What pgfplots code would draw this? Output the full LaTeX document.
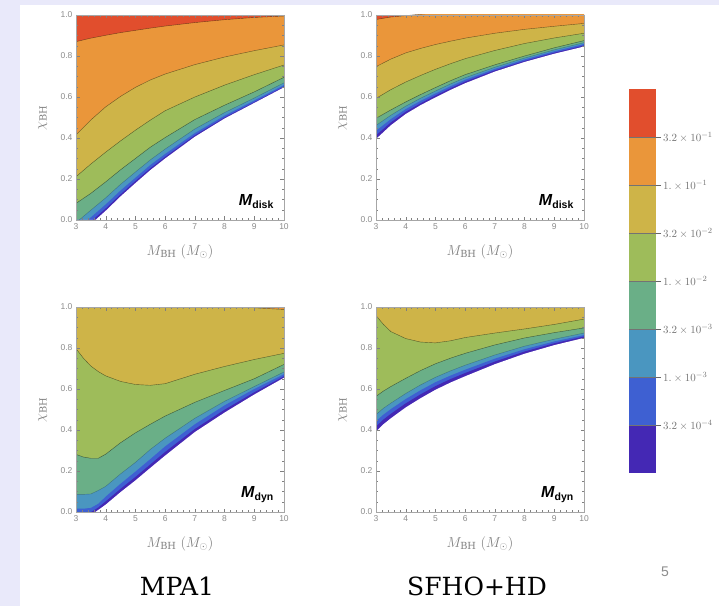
\documentclass[border=0pt]{standalone}
\usepackage{fontspec}
\setmainfont{DejaVu Serif}
\setsansfont{Liberation Sans}
\usepackage{pgfplots}
\usepackage{pgfplotstable}
\pgfplotsset{compat=1.18}

\definecolor{cRed}{RGB}{225,78,45}
\definecolor{cOrange}{RGB}{234,150,58}
\definecolor{cYellow}{RGB}{206,180,72}
\definecolor{cLGreen}{RGB}{158,188,90}
\definecolor{cTeal}{RGB}{106,175,135}
\definecolor{cSteel}{RGB}{74,150,192}
\definecolor{cBlue}{RGB}{62,96,210}
\definecolor{cIndigo}{RGB}{68,40,180}
\definecolor{lav}{RGB}{233,233,250}

% MPA1, M_disk
\pgfplotstableread{
x    W      B      S      T      G      Y      O      R
3   -0.090 -0.076 -0.052 -0.013  0.081  0.211  0.415  0.870
3.5 -0.020 -0.008  0.013  0.048  0.130  0.273  0.488  0.887
4    0.045  0.056  0.076  0.108  0.186  0.331  0.552  0.901
4.5  0.115  0.125  0.144  0.174  0.245  0.386  0.603  0.914
5    0.180  0.190  0.206  0.234  0.300  0.438  0.647  0.925
5.5  0.243  0.252  0.268  0.293  0.355  0.487  0.683  0.936
6    0.300  0.308  0.322  0.346  0.402  0.533  0.712  0.946
7    0.406  0.413  0.424  0.444  0.490  0.600  0.758  0.963
8    0.495  0.500  0.509  0.524  0.560  0.658  0.795  0.977
9    0.571  0.575  0.583  0.595  0.625  0.709  0.826  0.988
10   0.647  0.651  0.658  0.669  0.696  0.756  0.854  0.995
}\pA
% SFHO+HD, M_disk
\pgfplotstableread{
x    W      B      S      T      G      Y      O      R
3    0.395  0.413  0.435  0.461  0.496  0.593  0.748  0.978
3.5  0.462  0.476  0.492  0.511  0.537  0.636  0.785  0.990
4    0.517  0.528  0.541  0.555  0.576  0.673  0.815  0.997
4.5  0.560  0.569  0.581  0.594  0.612  0.705  0.837  1.004
5    0.598  0.607  0.617  0.629  0.646  0.735  0.856  1.010
5.5  0.634  0.642  0.652  0.663  0.679  0.762  0.872  1.015
6    0.667  0.675  0.684  0.694  0.709  0.787  0.887  1.020
7    0.724  0.730  0.737  0.745  0.757  0.827  0.911  1.030
8    0.771  0.776  0.783  0.790  0.800  0.861  0.930  1.040
9    0.811  0.816  0.823  0.830  0.840  0.888  0.945  1.050
10   0.846  0.851  0.858  0.865  0.875  0.911  0.959  1.060
}\pB
% MPA1, M_dyn
\pgfplotstableread{
x     W      B      S      T      G      Y      O      R
3    -0.060 -0.030  0.016  0.086  0.281  0.797  1.050  1.100
3.25 -0.040 -0.018  0.016  0.086  0.268  0.750  1.050  1.100
3.5  -0.015 -0.001  0.020  0.088  0.262  0.712  1.050  1.100
3.75  0.010  0.022  0.040  0.105  0.262  0.685  1.050  1.100
4     0.036  0.052  0.075  0.125  0.282  0.664  1.050  1.100
4.5   0.097  0.113  0.138  0.186  0.338  0.637  1.050  1.100
5     0.154  0.171  0.197  0.242  0.386  0.622  1.050  1.100
5.5   0.215  0.232  0.258  0.305  0.428  0.618  1.050  1.100
6     0.275  0.293  0.320  0.360  0.468  0.626  1.040  1.100
7     0.390  0.405  0.428  0.457  0.535  0.672  1.030  1.100
8     0.485  0.499  0.520  0.540  0.593  0.710  1.010  1.100
9     0.573  0.584  0.600  0.612  0.650  0.744  0.996  1.100
10    0.655  0.662  0.672  0.683  0.720  0.774  0.988  1.100
}\pC
% SFHO+HD, M_dyn
\pgfplotstableread{
x     W      B      S      T      G      Y      O      R
3     0.393  0.417  0.443  0.475  0.564  0.958  1.100  1.100
3.25  0.428  0.451  0.475  0.506  0.590  0.915  1.100  1.100
3.5   0.457  0.479  0.502  0.531  0.612  0.880  1.100  1.100
4     0.510  0.530  0.551  0.578  0.652  0.846  1.100  1.100
4.5   0.555  0.574  0.594  0.620  0.690  0.829  1.100  1.100
5     0.596  0.614  0.633  0.657  0.723  0.825  1.100  1.100
5.5   0.631  0.648  0.665  0.688  0.750  0.835  1.100  1.100
6     0.662  0.678  0.694  0.716  0.774  0.851  1.100  1.100
7     0.721  0.734  0.748  0.766  0.815  0.873  1.100  1.100
8     0.772  0.783  0.794  0.809  0.849  0.893  1.100  1.100
9     0.814  0.823  0.832  0.843  0.875  0.915  1.100  1.100
10    0.849  0.856  0.863  0.873  0.898  0.941  1.100  1.100
}\pD

\pgfplotsset{
  panel/.style={
    scale only axis, width=208pt, height=205pt,
    xmin=3, xmax=10, ymin=0, ymax=1,
    xtick={3,4,5,6,7,8,9,10}, ytick={0,0.2,0.4,0.6,0.8,1.0},
    minor x tick num=4, minor y tick num=3,
    tick align=inside, major tick length=3.5pt, minor tick length=1.8pt,
    axis line style={draw=black!35, line width=0.5pt},
    tick style={black!50, line width=0.4pt},
    /pgf/number format/assume math mode=true,
    ticklabel style={font=\sffamily\fontsize{8.5}{9}\selectfont, text=black!45},
    yticklabel style={/pgf/number format/.cd, fixed, fixed zerofill, precision=1},
    xlabel={$M_{\mathrm{BH}}\;(M_{\odot})$},
    ylabel={$\chi_{\mathrm{BH}}$},
    label style={font=\fontsize{14}{15}\selectfont, text=black!50},
    x label style={at={(axis description cs:0.5,-0.155)}, anchor=center},
    y label style={at={(axis description cs:-0.16,0.5)}, anchor=center},
    axis background/.style={fill=cRed},
    axis on top, clip=true,
  },
  cline/.style={black, opacity=0.5, line width=0.4pt},
}

\newcommand{\bands}[1]{%
  \addplot[fill=cOrange, draw=none] table[x=x,y=R]{#1} \closedcycle;
  \addplot[fill=cYellow, draw=none] table[x=x,y=O]{#1} \closedcycle;
  \addplot[fill=cLGreen, draw=none] table[x=x,y=Y]{#1} \closedcycle;
  \addplot[fill=cTeal,   draw=none] table[x=x,y=G]{#1} \closedcycle;
  \addplot[fill=cSteel,  draw=none] table[x=x,y=T]{#1} \closedcycle;
  \addplot[fill=cBlue,   draw=none] table[x=x,y=S]{#1} \closedcycle;
  \addplot[fill=cIndigo, draw=none] table[x=x,y=B]{#1} \closedcycle;
  \addplot[fill=white,   draw=none] table[x=x,y=W]{#1} \closedcycle;
  \addplot[cline] table[x=x,y=R]{#1};
  \addplot[cline] table[x=x,y=O]{#1};
  \addplot[cline] table[x=x,y=Y]{#1};
  \addplot[cline] table[x=x,y=G]{#1};
  \addplot[cline, opacity=0.25] table[x=x,y=T]{#1};
}

\newcommand{\mlab}[1]{{\sffamily\bfseries\fontsize{16}{16}\selectfont\itshape M\/}{\sffamily\bfseries\fontsize{10.5}{11}\selectfont\raisebox{-2.5pt}{#1}}}

\begin{document}
\begin{tikzpicture}
\useasboundingbox (0pt,0pt) rectangle (719pt,606pt);
\fill[white] (0pt,0pt) rectangle (719pt,606pt);
\fill[lav] (0pt,0pt) rectangle (20pt,606pt);
\fill[lav] (0pt,601pt) rectangle (719pt,606pt);

\begin{axis}[panel, at={(76pt,386pt)}, anchor=south west]
  \bands{\pA}
  \node[anchor=base east, inner sep=0pt] at (axis cs:9.65,0.07) {\mlab{disk}};
\end{axis}

\begin{axis}[panel, at={(376pt,386pt)}, anchor=south west]
  \bands{\pB}
  \node[anchor=base east, inner sep=0pt] at (axis cs:9.65,0.07) {\mlab{disk}};
\end{axis}

\begin{axis}[panel, at={(76pt,94pt)}, anchor=south west]
  \bands{\pC}
  \node[anchor=base east, inner sep=0pt] at (axis cs:9.65,0.07) {\mlab{dyn}};
\end{axis}

\begin{axis}[panel, at={(376pt,94pt)}, anchor=south west]
  \bands{\pD}
  \node[anchor=base east, inner sep=0pt] at (axis cs:9.65,0.07) {\mlab{dyn}};
\end{axis}

% colour bar
\begin{axis}[at={(629pt,133pt)}, anchor=south west, scale only axis,
  width=27pt, height=384pt, xmin=0, xmax=1, ymin=0, ymax=8,
  xtick=\empty, ytick={1,2,3,4,5,6,7},
  yticklabels={{$3.2\times 10^{-4}$},{$1.\times 10^{-3}$},{$3.2\times 10^{-3}$},{$1.\times 10^{-2}$},{$3.2\times 10^{-2}$},{$1.\times 10^{-1}$},{$3.2\times 10^{-1}$}},
  ytick pos=right, yticklabel pos=right, tick align=outside,
  major tick length=5pt, tick style={black!60, line width=0.4pt},
  axis line style={draw=none},
  yticklabel style={font=\fontsize{11}{12}\selectfont, text=black!55, xshift=-1.5pt},
  clip=false]
  \addplot[fill=cIndigo, draw=none] coordinates {(0,0) (1,0) (1,1) (0,1)};
  \addplot[fill=cBlue,   draw=none] coordinates {(0,1) (1,1) (1,2) (0,2)};
  \addplot[fill=cSteel,  draw=none] coordinates {(0,2) (1,2) (1,3) (0,3)};
  \addplot[fill=cTeal,   draw=none] coordinates {(0,3) (1,3) (1,4) (0,4)};
  \addplot[fill=cLGreen, draw=none] coordinates {(0,4) (1,4) (1,5) (0,5)};
  \addplot[fill=cYellow, draw=none] coordinates {(0,5) (1,5) (1,6) (0,6)};
  \addplot[fill=cOrange, draw=none] coordinates {(0,6) (1,6) (1,7) (0,7)};
  \addplot[fill=cRed,    draw=none] coordinates {(0,7) (1,7) (1,8) (0,8)};
  \addplot[black!55, line width=0.4pt] coordinates {(0,1) (1,1)};
  \addplot[black!55, line width=0.4pt] coordinates {(0,2) (1,2)};
  \addplot[black!55, line width=0.4pt] coordinates {(0,3) (1,3)};
  \addplot[black!55, line width=0.4pt] coordinates {(0,4) (1,4)};
  \addplot[black!55, line width=0.4pt] coordinates {(0,5) (1,5)};
  \addplot[black!55, line width=0.4pt] coordinates {(0,6) (1,6)};
  \addplot[black!55, line width=0.4pt] coordinates {(0,7) (1,7)};
\end{axis}

\node[anchor=base, inner sep=0pt] at (177pt,11pt) {\fontsize{25}{28}\selectfont MPA1};
\node[anchor=base, inner sep=0pt] at (477pt,11pt) {\fontsize{25}{28}\selectfont SFHO+HD};
\node[anchor=center, inner sep=0pt, text=black!45] at (665pt,34pt) {\sffamily\fontsize{14}{15}\selectfont 5};
\end{tikzpicture}
\end{document}
